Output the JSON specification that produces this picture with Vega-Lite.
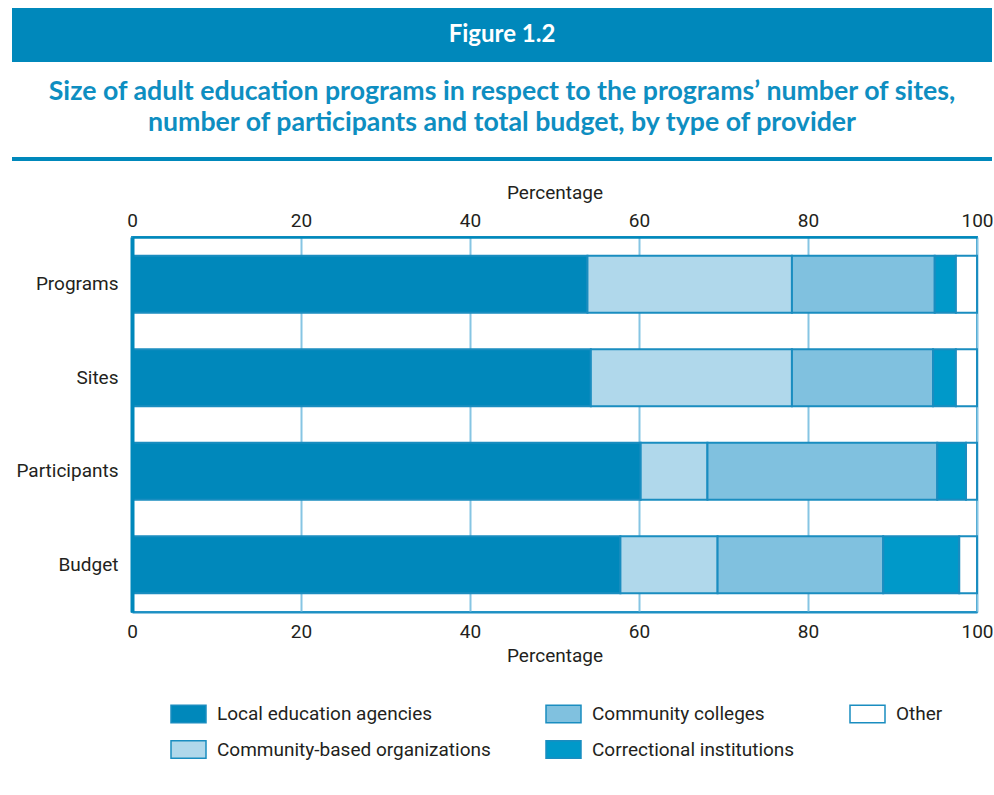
{
  "$schema": "https://vega.github.io/schema/vega-lite/v6.json",
  "padding": {"left": 12, "top": 8, "right": 0, "bottom": 0},
  "background": "white",
  "spacing": 0,
  "config": {"view": {"stroke": null}, "font": "Roboto"},
  "vconcat": [
    {
      "width": 980, "height": 54,
      "view": {"fill": "#0088BB", "stroke": null},
      "data": {"values": [{"label": "Figure 1.2"}]},
      "mark": {"type": "text", "color": "white", "font": "Lato", "fontWeight": "bold", "fontSize": 24, "align": "center", "baseline": "middle"},
      "encoding": {"text": {"field": "label", "type": "nominal"}}
    },
    {
      "width": 980, "height": 91,
      "data": {"values": [
        {"line": 1, "title": "Size of adult education programs in respect to the programs’ number of sites,"},
        {"line": 2, "title": "number of participants and total budget, by type of provider"}
      ]},
      "mark": {"type": "text", "color": "#0E8EC1", "font": "Lato", "fontWeight": "bold", "fontSize": 26.7, "align": "center", "baseline": "middle"},
      "encoding": {
        "y": {"field": "line", "type": "ordinal", "axis": null, "scale": {"padding": 2.2}},
        "text": {"field": "title", "type": "nominal"}
      }
    },
    {
      "width": 980, "height": 4,
      "view": {"fill": "#0088BB", "stroke": null},
      "data": {"values": [{}]},
      "mark": {"type": "text"},
      "encoding": {"text": {"value": ""}}
    },
    {
      "width": 980, "height": 18,
      "data": {"values": [{}]},
      "mark": {"type": "text"},
      "encoding": {"text": {"value": ""}}
    },
    {
      "spacing": 0,
      "hconcat": [
        {
          "width": 2, "height": 10,
          "data": {"values": [{}]},
          "mark": {"type": "text"},
          "encoding": {"text": {"value": ""}}
        },
        {
          "width": 845, "height": 375,
          "view": {"stroke": "#2B96C6", "strokeWidth": 2},
          "data": {"values": [
            {"measure": "Programs", "provider": "Local education agencies", "value": 53.9, "ord": 1},
            {"measure": "Programs", "provider": "Community-based organizations", "value": 24.2, "ord": 2},
            {"measure": "Programs", "provider": "Community colleges", "value": 16.9, "ord": 3},
            {"measure": "Programs", "provider": "Correctional institutions", "value": 2.5, "ord": 4},
            {"measure": "Programs", "provider": "Other", "value": 2.5, "ord": 5},
            {"measure": "Sites", "provider": "Local education agencies", "value": 54.3, "ord": 1},
            {"measure": "Sites", "provider": "Community-based organizations", "value": 23.8, "ord": 2},
            {"measure": "Sites", "provider": "Community colleges", "value": 16.7, "ord": 3},
            {"measure": "Sites", "provider": "Correctional institutions", "value": 2.7, "ord": 4},
            {"measure": "Sites", "provider": "Other", "value": 2.5, "ord": 5},
            {"measure": "Participants", "provider": "Local education agencies", "value": 60.2, "ord": 1},
            {"measure": "Participants", "provider": "Community-based organizations", "value": 7.9, "ord": 2},
            {"measure": "Participants", "provider": "Community colleges", "value": 27.2, "ord": 3},
            {"measure": "Participants", "provider": "Correctional institutions", "value": 3.4, "ord": 4},
            {"measure": "Participants", "provider": "Other", "value": 1.3, "ord": 5},
            {"measure": "Budget", "provider": "Local education agencies", "value": 57.8, "ord": 1},
            {"measure": "Budget", "provider": "Community-based organizations", "value": 11.5, "ord": 2},
            {"measure": "Budget", "provider": "Community colleges", "value": 19.6, "ord": 3},
            {"measure": "Budget", "provider": "Correctional institutions", "value": 9.0, "ord": 4},
            {"measure": "Budget", "provider": "Other", "value": 2.1, "ord": 5}
          ]},
          "layer": [
            {
              "mark": {"type": "bar", "stroke": "#1A8DC0", "strokeWidth": 2},
              "encoding": {
                "y": {
                  "field": "measure", "type": "nominal",
                  "sort": ["Programs", "Sites", "Participants", "Budget"],
                  "scale": {"paddingInner": 0.39, "paddingOuter": 0.2},
                  "axis": {"title": null, "ticks": false, "labelFontSize": 19, "labelColor": "#231F20", "labelPadding": 14, "domainColor": "#0088BB", "domainWidth": 4, "zindex": 1}
                },
                "x": {
                  "field": "value", "type": "quantitative", "stack": "zero",
                  "scale": {"domain": [0, 100], "nice": false},
                  "axis": {"orient": "top", "values": [0, 20, 40, 60, 80, 100], "labelFlush": false, "labelFontSize": 19, "labelColor": "#231F20", "labelPadding": 7, "ticks": false, "domainColor": "#0088BB", "domainWidth": 2.5, "grid": true, "gridColor": "#86C5E3", "gridWidth": 2, "title": "Percentage", "titleFontSize": 19, "titleFontWeight": "normal", "titleColor": "#231F20", "titlePadding": 9}
                },
                "color": {
                  "field": "provider", "type": "nominal",
                  "scale": {
                    "domain": ["Local education agencies", "Community-based organizations", "Community colleges", "Correctional institutions", "Other"],
                    "range": ["#0088BB", "#B0D8EB", "#80C1DF", "#0099C9", "#FFFFFF"]
                  },
                  "legend": {
                    "orient": "none", "legendX": 158, "legendY": 687, "columns": 3, "direction": "horizontal", "title": null,
                    "values": ["Local education agencies", "Community colleges", "Other", "Community-based organizations", "Correctional institutions"],
                    "symbolType": "M-1,-0.5H1V0.5H-1Z", "symbolSize": 1225, "symbolStrokeColor": "#1A8DC0", "symbolStrokeWidth": 1.5,
                    "labelFontSize": 19, "labelColor": "#231F20", "labelOffset": 10, "labelLimit": 400, "columnPadding": 52, "rowPadding": 5, "padding": 0
                  }
                },
                "order": {"field": "ord", "type": "quantitative"}
              }
            },
            {
              "mark": {"type": "bar", "opacity": 0},
              "encoding": {
                "y": {
                  "field": "measure", "type": "nominal",
                  "sort": ["Programs", "Sites", "Participants", "Budget"],
                  "scale": {"paddingInner": 0.39, "paddingOuter": 0.2},
                  "axis": {"title": null, "ticks": false, "labelFontSize": 19, "labelColor": "#231F20", "labelPadding": 14, "domainColor": "#0088BB", "domainWidth": 4, "zindex": 1}
                },
                "x": {
                  "aggregate": "sum", "field": "value", "type": "quantitative",
                  "scale": {"domain": [0, 100], "nice": false},
                  "axis": {"orient": "bottom", "values": [0, 20, 40, 60, 80, 100], "labelFlush": false, "labelFontSize": 19, "labelColor": "#231F20", "labelPadding": 10, "ticks": false, "domainColor": "#1E90C3", "domainWidth": 2, "grid": false, "title": "Percentage", "titleFontSize": 19, "titleFontWeight": "normal", "titleColor": "#231F20", "titlePadding": 5}
                }
              }
            }
          ],
          "resolve": {"axis": {"x": "independent"}}
        }
      ]
    }
  ]
}
